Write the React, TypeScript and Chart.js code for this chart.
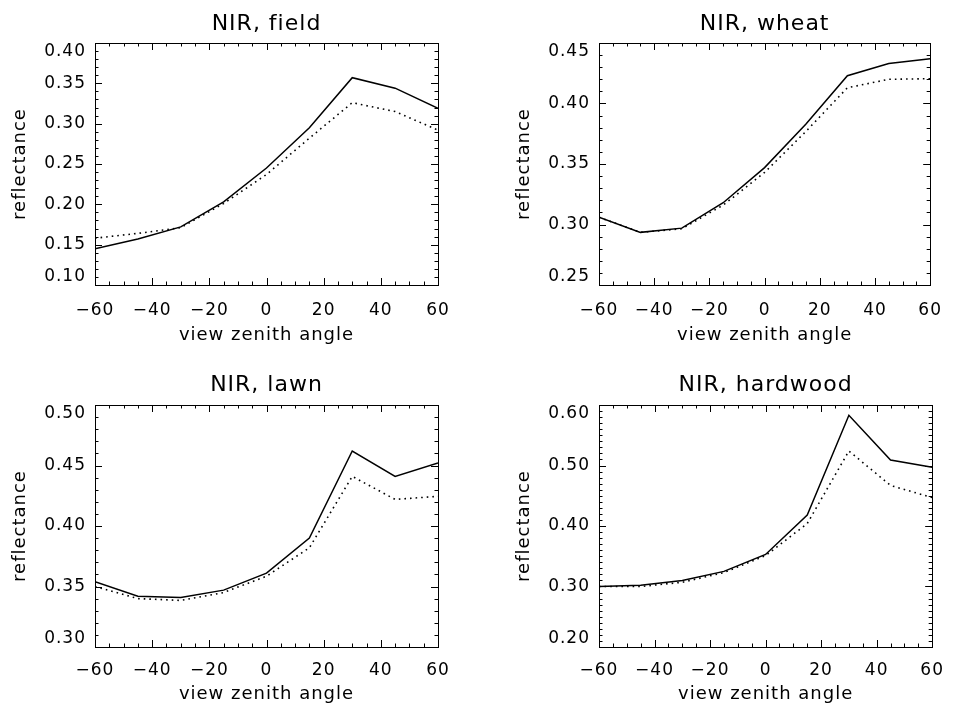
import React, { useEffect, useRef } from 'react';
import { Chart, registerables } from 'chart.js';

Chart.register(...registerables);

// ---- data ----
const ANGLES = [-60, -45, -30, -15, 0, 15, 30, 45, 60];
const X_TICKS = [-60, -40, -20, 0, 20, 40, 60];

const FIELD_SOLID = [0.145, 0.157, 0.172, 0.203, 0.245, 0.295, 0.357, 0.344, 0.319];
const FIELD_DOTTED = [0.158, 0.164, 0.171, 0.201, 0.237, 0.282, 0.326, 0.315, 0.292];
const FIELD_Y_TICKS = [0.10, 0.15, 0.20, 0.25, 0.30, 0.35, 0.40];

const WHEAT_SOLID = [0.306, 0.2935, 0.297, 0.318, 0.347, 0.383, 0.423, 0.433, 0.437];
const WHEAT_DOTTED = [0.306, 0.2935, 0.2965, 0.316, 0.343, 0.377, 0.413, 0.42, 0.4205];
const WHEAT_Y_TICKS = [0.25, 0.30, 0.35, 0.40, 0.45];

const LAWN_SOLID = [0.354, 0.342, 0.341, 0.347, 0.361, 0.390, 0.462, 0.441, 0.452];
const LAWN_DOTTED = [0.350, 0.340, 0.3385, 0.345, 0.3585, 0.382, 0.441, 0.422, 0.4245];
const LAWN_Y_TICKS = [0.30, 0.35, 0.40, 0.45, 0.50];

const HARDWOOD_SOLID = [0.300, 0.302, 0.310, 0.325, 0.353, 0.418, 0.583, 0.509, 0.497];
const HARDWOOD_DOTTED = [0.300, 0.300, 0.307, 0.323, 0.351, 0.404, 0.524, 0.467, 0.447];
const HARDWOOD_Y_TICKS = [0.20, 0.30, 0.40, 0.50, 0.60];

const TITLES = ['NIR, field', 'NIR, wheat', 'NIR, lawn', 'NIR, hardwood'];

Chart.defaults.font.family = "'DejaVu Sans', sans-serif";
Chart.defaults.color = '#000';

const frameTicks = {
  id: 'frameTicks',
  beforeDraw(chart: any) {
    try { (chart.ctx as any).letterSpacing = '1px'; } catch (e) {}
  },
  afterDraw(chart: any, _args: any, opts: any) {
    const { ctx, chartArea: a, scales } = chart;
    const xs = scales.x;
    const ys = scales.y;
    ctx.save();
    ctx.strokeStyle = '#000';
    ctx.lineWidth = 1;
    ctx.setLineDash([]);
    ctx.strokeRect(Math.round(a.left) + 0.5, Math.round(a.top) + 0.5, Math.round(a.right - a.left), Math.round(a.bottom - a.top));
    ctx.beginPath();
    const nx = Math.round((xs.max - xs.min) / opts.xMinor);
    for (let i = 0; i <= nx; i++) {
      const v = xs.min + i * opts.xMinor;
      const r = v / opts.xMajor;
      const major = Math.abs(r - Math.round(r)) < 1e-6;
      const len = major ? 7 : 3.5;
      const px = Math.round(xs.getPixelForValue(v)) + 0.5;
      ctx.moveTo(px, a.bottom); ctx.lineTo(px, a.bottom - len);
      ctx.moveTo(px, a.top); ctx.lineTo(px, a.top + len);
    }
    const ny = Math.round((ys.max - ys.min) / opts.yMinor);
    for (let i = 0; i <= ny; i++) {
      const v = ys.min + i * opts.yMinor;
      const r = (v - ys.min) / opts.yMajor;
      const major = Math.abs(r - Math.round(r)) < 1e-6;
      const len = major ? 7 : 3.5;
      const py = Math.round(ys.getPixelForValue(v)) + 0.5;
      ctx.moveTo(a.left, py); ctx.lineTo(a.left + len, py);
      ctx.moveTo(a.right, py); ctx.lineTo(a.right - len, py);
    }
    ctx.stroke();
    ctx.restore();
  },
};

type PanelProps = {
  title: string;
  solid: number[];
  dotted: number[];
  yTicks: number[];
  yMinor: number;
  left: number;
  top: number;
  width: number;
  height: number;
  padLeft: number;
  padRight: number;
  titlePadTop: number;
  titlePadBottom: number;
  xAxisHeight: number;
  xTickPad: number;
  xTitlePadBottom: number;
};

function Panel(p: PanelProps) {
  const ref = useRef<HTMLCanvasElement | null>(null);
  useEffect(() => {
    if (!ref.current) return;
    const yMin = p.yTicks[0];
    const yMax = p.yTicks[p.yTicks.length - 1];
    const yMajor = p.yTicks[1] - p.yTicks[0];
    const chart = new Chart(ref.current, {
      type: 'line',
      data: {
        datasets: [
          {
            data: ANGLES.map((x, i) => ({ x, y: p.solid[i] })),
            borderColor: '#000',
            borderWidth: 1.5,
            pointRadius: 0,
            tension: 0,
            fill: false,
          },
          {
            data: ANGLES.map((x, i) => ({ x, y: p.dotted[i] })),
            borderColor: '#000',
            borderWidth: 1.6,
            borderDash: [1.6, 4],
            pointRadius: 0,
            tension: 0,
            fill: false,
          },
        ],
      },
      options: {
        responsive: false,
        animation: false,
        events: [],
        layout: { padding: { left: p.padLeft, right: p.padRight, top: 0, bottom: 0 } },
        plugins: {
          legend: { display: false },
          tooltip: { enabled: false },
          title: {
            display: true,
            text: p.title,
            fullSize: false,
            color: '#000',
            font: { size: 22, weight: 'normal', lineHeight: 1.2 },
            padding: { top: p.titlePadTop, bottom: p.titlePadBottom },
          },
          frameTicks: { xMinor: 5, xMajor: 20, yMinor: p.yMinor, yMajor },
        } as any,
        scales: {
          x: {
            type: 'linear',
            min: -60,
            max: 60,
            afterBuildTicks: (s: any) => { s.ticks = X_TICKS.map((v) => ({ value: v })); },
            afterFit: (s: any) => { s.height = p.xAxisHeight; },
            grid: { display: false, drawTicks: false },
            border: { display: false },
            ticks: {
              autoSkip: false,
              maxRotation: 0,
              padding: p.xTickPad,
              color: '#000',
              font: { size: 17, lineHeight: 1.2 },
              callback: (v: any) => (v < 0 ? '\u2212' + Math.abs(v) : String(v)),
            },
            title: {
              display: true,
              text: 'view zenith angle',
              color: '#000',
              font: { size: 18, lineHeight: 1.2 },
              padding: { top: 0, bottom: p.xTitlePadBottom },
            },
          },
          y: {
            type: 'linear',
            min: yMin,
            max: yMax,
            afterBuildTicks: (s: any) => { s.ticks = p.yTicks.map((v) => ({ value: v })); },
            afterFit: (s: any) => { s.width = 95; },
            grid: { display: false, drawTicks: false },
            border: { display: false },
            ticks: {
              padding: 9,
              color: '#000',
              font: { size: 17, lineHeight: 1.0 },
              callback: (v: any, i: number, arr: any[]) => {
                const s = Number(v).toFixed(2);
                if (i === 0) return [s, ''];
                if (i === arr.length - 1) return ['', s];
                return s;
              },
            },
            title: {
              display: true,
              text: 'reflectance',
              color: '#000',
              font: { size: 18, lineHeight: 1.2 },
              padding: { top: 10, bottom: 0 },
            },
          },
        },
      },
      plugins: [frameTicks as any],
    });
    return () => chart.destroy();
  }, []);
  return (
    <canvas
      ref={ref}
      width={p.width}
      height={p.height}
      style={{ position: 'absolute', left: p.left, top: p.top, width: p.width, height: p.height }}
    />
  );
}

export default function App() {
  const topRow = { top: 0, height: 353, titlePadTop: 11, titlePadBottom: 5.6, xAxisHeight: 68, xTickPad: 15, xTitlePadBottom: 6.4 };
  const botRow = { top: 353, height: 354, titlePadTop: 19.2, titlePadBottom: 6.4, xAxisHeight: 60, xTickPad: 13, xTitlePadBottom: 1.4 };
  const leftCol = { left: 0, width: 478, padLeft: 0, padRight: 40 };
  const rightCol = { left: 478, width: 478, padLeft: 26, padRight: 13 };
  return (
    <div style={{ position: 'absolute', left: 0, top: 0, width: 956, height: 707, background: '#fff', overflow: 'hidden' }}>
      <Panel title={TITLES[0]} solid={FIELD_SOLID} dotted={FIELD_DOTTED} yTicks={FIELD_Y_TICKS} yMinor={0.01} {...topRow} {...leftCol} />
      <Panel title={TITLES[1]} solid={WHEAT_SOLID} dotted={WHEAT_DOTTED} yTicks={WHEAT_Y_TICKS} yMinor={0.01} {...topRow} {...rightCol} />
      <Panel title={TITLES[2]} solid={LAWN_SOLID} dotted={LAWN_DOTTED} yTicks={LAWN_Y_TICKS} yMinor={0.01} {...botRow} {...leftCol} />
      <Panel title={TITLES[3]} solid={HARDWOOD_SOLID} dotted={HARDWOOD_DOTTED} yTicks={HARDWOOD_Y_TICKS} yMinor={0.01} {...botRow} {...rightCol} />
    </div>
  );
}
